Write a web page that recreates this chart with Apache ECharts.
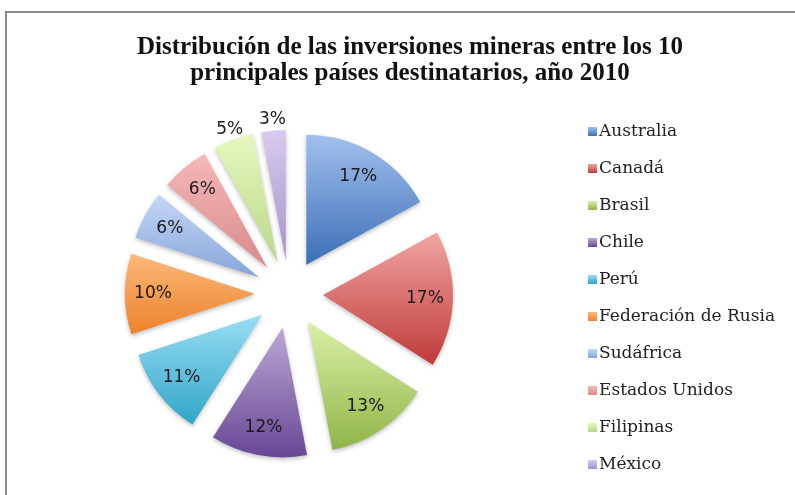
<!DOCTYPE html>
<html>
<head>
<meta charset="utf-8">
<script src="https://cdn.jsdelivr.net/npm/echarts@6/dist/echarts.min.js"></script>
<style>
  html, body { margin: 0; padding: 0; background: #fff; }
  #chart { width: 795px; height: 495px; }
</style>
</head>
<body>
<div id="chart"></div>
<script>
const paises = ['Australia', 'Canadá', 'Brasil', 'Chile', 'Perú', 'Federación de Rusia', 'Sudáfrica', 'Estados Unidos', 'Filipinas', 'México'];
const porcentajes = [17, 17, 13, 12, 11, 10, 6, 6, 5, 3];
// top / bottom colour of each slice gradient
const colorArriba = ['#a3c0ee', '#f2a6a4', '#daf0a6', '#bca8d6', '#98def6', '#fbb97a', '#c4d7f6', '#f6b8b8', '#e6f8bd', '#d8cbee'];
const colorAbajo = ['#3b6fb6', '#be3a38', '#90b548', '#684795', '#30a5c6', '#ee822c', '#86a5da', '#d98a8a', '#b9d78a', '#a592ca'];
const afuera = ['Filipinas', 'México']; // labels drawn above the slice

const chartDom = echarts.init(document.getElementById('chart'));

const centro = [289, 294];
const radio = 130;
const offset = 34;

const etiqueta = {
  show: true,
  position: 'inner',
  formatter: p => p.value + '%',
  fontFamily: 'DejaVu Sans',
  fontSize: 17,
  color: '#1a1a1a'
};

const option = {
  animation: false,
  title: {
    text: 'Distribución de las inversiones mineras entre los 10\nprincipales países destinatarios, año 2010',
    left: 405,
    textAlign: 'center',
    top: 30,
    textStyle: {
      fontFamily: 'Liberation Serif',
      fontWeight: 'bold',
      fontSize: 25,
      lineHeight: 26,
      color: '#111'
    }
  },
  legend: {
    orient: 'vertical',
    left: 583,
    top: 118,
    itemWidth: 9,
    itemHeight: 9,
    itemGap: 20,
    icon: 'rect',
    selectedMode: false,
    data: paises,
    textStyle: {
      fontFamily: 'DejaVu Serif',
      fontSize: 17,
      color: '#222',
      padding: [0, 0, 0, -3]
    }
  },
  graphic: [{
    type: 'rect',
    silent: true,
    shape: { x: 6, y: 12, width: 820, height: 520 },
    style: { fill: 'none', stroke: '#8c8c8c', lineWidth: 2 }
  }],
  series: [
    {
      type: 'pie',
      center: centro,
      radius: radio,
      startAngle: 90,
      selectedMode: 'multiple',
      selectedOffset: offset,
      silent: true,
      label: { show: false },
      labelLine: { show: false },
      data: paises.map((p, i) => ({
        name: p,
        value: porcentajes[i],
        selected: true,
        itemStyle: {
          color: new echarts.graphic.LinearGradient(0, 0, 0, 1, [
            { offset: 0, color: colorArriba[i] },
            { offset: 1, color: colorAbajo[i] }
          ]),
          shadowBlur: 4,
          shadowOffsetY: 2,
          shadowColor: 'rgba(0,0,0,0.25)'
        }
      }))
    },
    {
      // transparent copy, only places the percentages inside the slices
      type: 'pie',
      center: centro,
      radius: [Math.round(radio * 0.52), radio],
      startAngle: 90,
      selectedMode: 'multiple',
      selectedOffset: offset,
      silent: true,
      legendHoverLink: false,
      itemStyle: { color: 'rgba(0,0,0,0)' },
      label: etiqueta,
      labelLine: { show: false },
      data: paises.map((p, i) => ({
        name: p,
        value: porcentajes[i],
        selected: true,
        label: { show: !afuera.includes(p) }
      }))
    },
    {
      // ring just outside the pie for the two small slices
      type: 'pie',
      center: centro,
      radius: [radio - 2, radio + 18],
      startAngle: 90,
      selectedMode: 'multiple',
      selectedOffset: offset,
      silent: true,
      legendHoverLink: false,
      itemStyle: { color: 'rgba(0,0,0,0)' },
      label: etiqueta,
      labelLine: { show: false },
      data: paises.map((p, i) => ({
        name: p,
        value: porcentajes[i],
        selected: true,
        label: { show: afuera.includes(p) }
      }))
    }
  ]
};

option && chartDom.setOption(option);
</script>
</body>
</html>
